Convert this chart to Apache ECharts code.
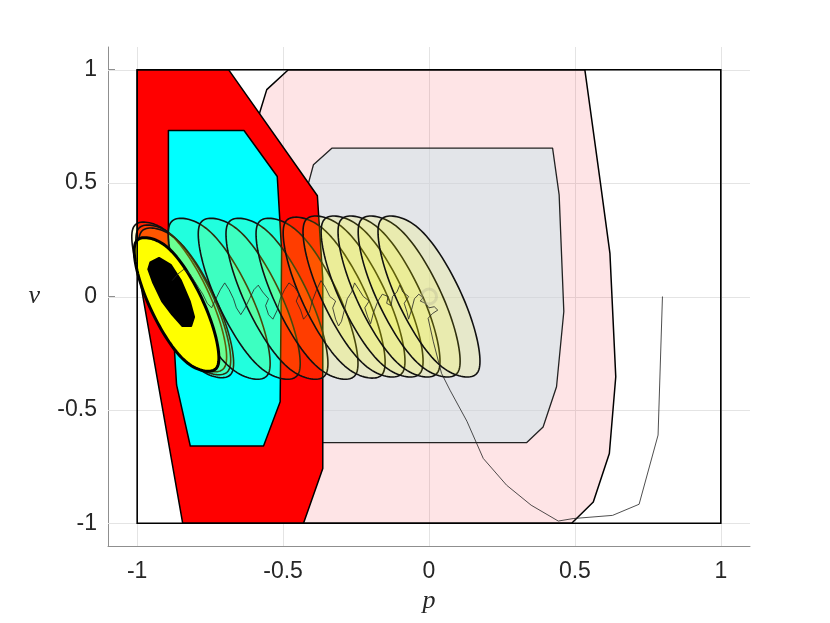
<!DOCTYPE html>
<html>
<head>
<meta charset="utf-8">
<script src="https://cdn.jsdelivr.net/npm/echarts@6/dist/echarts.min.js"></script>
<style>html,body{margin:0;padding:0;background:#fff;}#chart{width:830px;height:623px;}</style>
</head>
<body>
<div id="chart"></div>
<script>
// ---- axis ticks ----
const axisMin = -1.1, axisMax = 1.1;
const xTicks = [-1, -0.5, 0, 0.5, 1];
const xTickLabels = ['-1', '-0.5', '0', '0.5', '1'];
const yTicks = [-1, -0.5, 0, 0.5, 1];
const yTickLabels = ['-1', '-0.5', '0', '0.5', '1'];

// ---- constraint box ----
const boxP = [-1, 1, 1, -1];
const boxV = [-1, -1, 1, 1];

// ---- pink set ----
const pinkP = [-0.482, 0.534, 0.586, 0.620, 0.640, 0.618, 0.563, 0.489, -0.55, -0.62, -0.579, -0.556];
const pinkV = [1, 1, 0.514, 0.19, -0.354, -0.692, -0.906, -1, -1, 0.6, 0.816, 0.912];

// ---- gray set ----
const grayP = [-0.333, 0.4235, 0.446, 0.462, 0.437, 0.391, 0.335, -0.42, -0.42, -0.413, -0.396];
const grayV = [0.654, 0.654, 0.448, -0.066, -0.398, -0.575, -0.644, -0.644, 0.3, 0.5, 0.581];

// ---- red set ----
const redP = [-1, -0.687, -0.3825, -0.364, -0.364, -0.43, -0.844, -0.99, -1];
const redV = [1, 1, 0.444, 0.08, -0.758, -1, -1, 0.07, 0.28];

// ---- cyan set ----
const cyanP = [-0.893, -0.634, -0.520, -0.505, -0.510, -0.567, -0.818, -0.865, -0.893];
const cyanV = [0.732, 0.732, 0.529, 0.2, -0.464, -0.659, -0.659, -0.39, 0.2];

// ---- tube cross-section shape: ellipse factor and soft velocity bound ----
const ellL11 = 0.1747, ellL21 = -0.2904, ellL22 = 0.2551;
const ellVsoft = 0.413;

// ---- tube sets: centres and scale ----
const tubeP = [-0.856, -0.842, -0.832, -0.719, -0.616, -0.521, -0.418, -0.325, -0.257, -0.195, -0.137, -0.068, 0.0];
const tubeV = [-0.002, -0.015, -0.028, -0.01, -0.01, -0.01, -0.01, -0.005, 0, 0, 0, 0, 0];
const tubeS = [0.93, 0.93, 0.93, 1, 1, 1, 1, 1, 1, 1, 1, 1, 1];

// ---- terminal (yellow) set ----
const yellowP = [-0.865];
const yellowV = [-0.035];
const yellowS = [0.83];

// ---- dense trajectory blob ----
const blobP = [-0.955, -0.925, -0.885, -0.85, -0.82, -0.805, -0.815, -0.845, -0.88, -0.915, -0.945, -0.962];
const blobV = [0.15, 0.17, 0.14, 0.07, -0.02, -0.09, -0.13, -0.13, -0.08, -0.02, 0.06, 0.12];

// ---- trajectory ----
const trajP = [0.8, 0.785, 0.72, 0.629, 0.494, 0.443, 0.35, 0.266, 0.186, 0.13, 0.072, 0.043, 0.015, -0.003,
  0.012, 0.03, 0.018, 0.0, -0.012, -0.03, -0.02, -0.035, -0.05, -0.06, -0.07, -0.075, -0.085, -0.07,
  -0.09, -0.1, -0.11, -0.125, -0.13, -0.145, -0.14, -0.16, -0.175, -0.19, -0.2, -0.21, -0.22, -0.205,
  -0.225, -0.24, -0.255, -0.265, -0.28, -0.29, -0.3, -0.31, -0.32, -0.33, -0.32, -0.34, -0.355, -0.37,
  -0.385, -0.4, -0.41, -0.43, -0.44, -0.455, -0.445, -0.46, -0.48, -0.495, -0.51, -0.52, -0.535, -0.55,
  -0.56, -0.55, -0.57, -0.585, -0.6, -0.615, -0.63, -0.645, -0.66, -0.67, -0.685, -0.7, -0.715, -0.73,
  -0.745, -0.76, -0.775, -0.79, -0.805, -0.82, -0.84, -0.86, -0.88];
const trajV = [0.0, -0.611, -0.916, -0.965, -0.979, -0.99, -0.92, -0.832, -0.714, -0.55, -0.413, -0.339, -0.2, -0.096,
  -0.075, -0.06, -0.045, -0.05, -0.03, -0.02, -0.005, 0.01, -0.01, -0.06, -0.1, -0.07, -0.03, 0.0,
  0.02, 0.05, 0.02, 0.0, -0.04, -0.03, 0.0, 0.01, -0.02, -0.07, -0.12, -0.09, -0.05, -0.02,
  0.0, 0.03, 0.06, 0.02, -0.01, -0.06, -0.11, -0.13, -0.1, -0.05, -0.02, 0.0, 0.04, 0.07,
  0.03, -0.02, -0.07, -0.1, -0.06, -0.02, 0.01, 0.04, 0.06, 0.03, -0.01, -0.06, -0.1, -0.08,
  -0.04, -0.01, 0.02, 0.05, 0.03, -0.01, -0.05, -0.08, -0.05, -0.01, 0.03, 0.06, 0.03, -0.01,
  -0.05, -0.03, 0.01, 0.04, 0.07, 0.1, 0.12, 0.1, 0.07];

// ---- equilibrium marker ----
const eqP = [0.0];
const eqV = [0.0];

// ================= build chart =================
const chart = echarts.init(document.getElementById('chart'), null, {renderer: 'canvas'});

function zip(a, b) { return a.map((x, i) => [x, b[i]]); }

function polygonSeries(P, V, style, z) {
  return {
    type: 'custom', z: z, silent: true, coordinateSystem: 'cartesian2d',
    data: zip(P, V), encode: {x: 0, y: 1},
    renderItem: function (params, api) {
      if (params.dataIndex !== 0) return;
      const pts = P.map((p, i) => api.coord([p, V[i]]));
      return {type: 'polygon', shape: {points: pts}, style: style};
    }
  };
}

function tubeSeries(P, V, S, style, z) {
  return {
    type: 'custom', z: z, silent: true, coordinateSystem: 'cartesian2d',
    data: P.map((p, i) => [p, V[i], S[i]]), encode: {x: 0, y: 1},
    renderItem: function (params, api) {
      const cp = api.value(0), cv = api.value(1), s = api.value(2);
      const pts = [];
      const L = ellVsoft * s;
      for (let k = 0; k < 120; k++) {
        const t = 2 * Math.PI * k / 120;
        const c = Math.cos(t), sn = Math.sin(t);
        let dv = s * (ellL21 * c + ellL22 * sn);
        dv = dv / Math.pow(1 + Math.pow(Math.abs(dv) / L, 6), 1 / 6);
        pts.push(api.coord([cp + s * ellL11 * c, cv + dv]));
      }
      return {type: 'polygon', shape: {points: pts}, style: style};
    }
  };
}

const gridSeries = {
  type: 'custom', z: 1, silent: true, coordinateSystem: 'cartesian2d',
  data: [[0, 0]], encode: {x: 0, y: 1},
  renderItem: function (params, api) {
    const children = [];
    xTicks.forEach(function (t) {
      const a = api.coord([t, axisMin]), b = api.coord([t, axisMax]);
      children.push({type: 'line', shape: {x1: Math.round(a[0]) + 0.5, y1: a[1], x2: Math.round(b[0]) + 0.5, y2: b[1]}, style: {stroke: '#e4e4e4', lineWidth: 1}});
    });
    yTicks.forEach(function (t) {
      const a = api.coord([axisMin, t]), b = api.coord([axisMax, t]);
      children.push({type: 'line', shape: {x1: a[0], y1: Math.round(a[1]) + 0.5, x2: b[0], y2: Math.round(b[1]) + 0.5}, style: {stroke: '#e4e4e4', lineWidth: 1}});
    });
    return {type: 'group', children: children};
  }
};

const axisCommon = {
  type: 'value', min: axisMin, max: axisMax,
  axisLine: {show: true, onZero: false, lineStyle: {color: '#8f8f8f', width: 1}},
  splitLine: {show: false},
  nameLocation: 'middle',
  nameTextStyle: {fontFamily: 'Liberation Serif, DejaVu Serif, serif', fontStyle: 'italic', fontSize: 26, color: '#262626'}
};

const option = {
  animation: false,
  backgroundColor: '#ffffff',
  grid: {left: 108, right: 80, top: 47, bottom: 77, containLabel: false},
  xAxis: Object.assign({}, axisCommon, {
    name: 'p', nameGap: 39,
    axisTick: {show: true, inside: true, length: 7, customValues: xTicks, lineStyle: {color: '#8f8f8f'}},
    axisLabel: {customValues: xTicks, margin: 14, fontSize: 23, color: '#262626', fontFamily: 'Liberation Sans, Arial, sans-serif',
      formatter: function (v) { const i = xTicks.findIndex(t => Math.abs(t - v) < 1e-9); return i >= 0 ? xTickLabels[i] : ''; }}
  }),
  yAxis: Object.assign({}, axisCommon, {
    name: 'v', nameGap: 68, nameRotate: 0,
    axisTick: {show: true, inside: true, length: 7, customValues: yTicks, lineStyle: {color: '#8f8f8f'}},
    axisLabel: {customValues: yTicks, margin: 11, fontSize: 23, color: '#262626', fontFamily: 'Liberation Sans, Arial, sans-serif',
      formatter: function (v) { const i = yTicks.findIndex(t => Math.abs(t - v) < 1e-9); return i >= 0 ? yTickLabels[i] : ''; }}
  }),
  series: [
    gridSeries,
    polygonSeries(pinkP, pinkV, {fill: 'rgba(248,30,50,0.12)', stroke: '#000', lineWidth: 1.5, lineJoin: 'round'}, 2),
    polygonSeries(grayP, grayV, {fill: 'rgba(200,230,236,0.5)', stroke: '#222', lineWidth: 1.3, lineJoin: 'round'}, 3),
    polygonSeries(redP, redV, {fill: '#ff0000', stroke: '#000', lineWidth: 1.5, lineJoin: 'round'}, 4),
    polygonSeries(cyanP, cyanV, {fill: '#00ffff', stroke: '#000', lineWidth: 1.5, lineJoin: 'round'}, 5),
    tubeSeries(tubeP, tubeV, tubeS, {fill: 'rgba(255,255,0,0.13)', stroke: '#111', lineWidth: 1.6, lineJoin: 'round'}, 6),
    tubeSeries(yellowP, yellowV, yellowS, {fill: '#ffff00', stroke: '#000', lineWidth: 3, lineJoin: 'round'}, 7),
    polygonSeries(blobP, blobV, {fill: '#000', stroke: '#000', lineWidth: 2, lineJoin: 'round'}, 8),
    {
      type: 'line', z: 9, silent: true, data: zip(trajP, trajV), showSymbol: false,
      lineStyle: {color: '#222', width: 0.8}
    },
    {
      type: 'scatter', z: 9, silent: true, data: zip(eqP, eqV), symbol: 'circle', symbolSize: 15,
      itemStyle: {color: 'rgba(0,0,0,0)', borderColor: 'rgba(185,185,150,0.5)', borderWidth: 3}
    },
    polygonSeries(boxP, boxV, {fill: 'none', stroke: '#000', lineWidth: 1.6}, 10)
  ]
};
chart.setOption(option);
</script>
</body>
</html>
